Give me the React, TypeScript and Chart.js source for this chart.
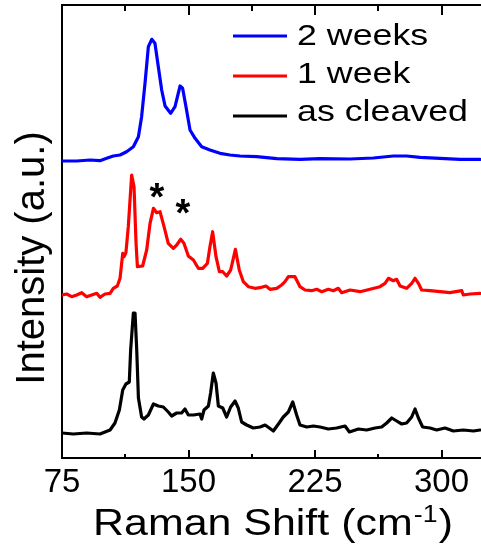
import { useEffect, useRef } from "react";
import { Chart, registerables } from "chart.js";

Chart.register(...registerables);

// Axis range and tick positions (Raman shift, cm^-1)
const shiftMin = 75;
const shiftMax = 323.4;
const majorTicks = [75, 150, 225, 300];
const minorTicks = [112.5, 187.5, 262.5];

const seriesLabels = ["2 weeks", "1 week", "as cleaved"];
const seriesColors = ["#0000ff", "#ff0000", "#000000"];

// Spectrum after 2 weeks (vertically offset)
const twoWeeksShift = [
  75, 83.7, 91.6, 97.5, 101.5, 105.4, 109.4, 113.3, 117.3, 120.3, 122.2, 124.2,
  126.2, 128.2, 130.1, 132.1, 134.1, 136.1, 139.4, 142, 145, 146.5, 148.5, 150.9,
  153.9, 157.8, 162.7, 168.7, 174.6, 180.5, 190.4, 202.3, 216.1, 228, 245.8,
  259.6, 271.4, 279.3, 287.3, 299.1, 311, 322.8,
];
const twoWeeksIntensity = [
  297, 297, 298, 297.3, 299.7, 302, 303, 306.3, 311.3, 321.3, 341.3, 374.7,
  411.3, 418.7, 414.7, 391.3, 368, 352, 344.7, 351.3, 372, 369.7, 351.3, 328,
  319.7, 311.3, 308, 304.7, 303, 302, 301.3, 299.3, 298.7, 299.3, 299,
  300, 302, 302, 300.7, 299.7, 298.7, 298.7,
];

// Spectrum after 1 week (vertically offset)
const oneWeekShift = [
  75, 77.8, 80.7, 83.7, 86.7, 89.6, 92.6, 95.6, 97.5, 100.5, 103.5, 105.4, 107.8,
  109.4, 111, 111.8, 112.9, 114.3, 116.3, 117.7, 118.9, 119.7, 122.8, 125.2,
  127.2, 129.2, 131.1, 133.1, 135.5, 138, 141, 143, 145.4, 147.3, 149.9, 152.9,
  155.8, 158.4, 161.2, 162.7, 164.3, 166.3, 168.3, 170.3, 172.6, 175, 177.8,
  180.1, 182.5, 185.5, 189.4, 192.4, 195.9, 198.3, 202.3, 205.2, 207.2, 209.2,
  213.1, 216.1, 219.1, 223, 226, 229, 232.9, 235.9, 238.8, 240.8, 245.8, 251.7,
  257.6, 263.5, 266.5, 268.5, 271.4, 273.4, 275.4, 279.3, 282.3, 284.3, 286.3,
  288.2, 293.2, 299.1, 305, 312, 312.9, 316.9, 322.8,
];
const oneWeekIntensity = [
  163, 164, 161.3, 163, 165.3, 161.3, 163, 164.7, 160.7, 164, 164.7, 169.7, 172,
  179.7, 204.7, 201.3, 205.3, 231.3, 283, 271.3, 214.7, 191.3, 192, 208,
  234.7, 249.7, 245.3, 246.3, 231.3, 214.7, 209.7, 213, 218.7, 214.7, 202, 198,
  189.7, 189.7, 194.7, 211.3, 226.3, 201.3, 186.3, 186.3, 182, 188, 208.7,
  188, 176.3, 171.3, 169.7, 170.3, 172, 168.7, 169.7, 173, 176.3, 181.3,
  181.3, 171.3, 168, 167.3, 168.7, 166.3, 168.7, 167.3, 169.7, 165.3, 168, 166.3,
  168.7, 171.3, 174.7, 179.7, 177.3, 178.7, 172, 169.7, 174.7, 179.7, 174.7,
  168, 167.3, 166.3, 165.3, 167.3, 163, 164, 164.7,
];

// Freshly cleaved spectrum
const cleavedShift = [
  75, 81.7, 89.6, 97.5, 103.5, 106.4, 109, 111, 112.9, 114.9, 115.7, 117.3, 118.3,
  119.3, 120.3, 122.2, 123.6, 126.2, 129.2, 132.1, 135.1, 138, 140, 143, 145.9,
  147.9, 149.9, 152.9, 156.8, 157.8, 159.2, 161.8, 163.1, 164.7, 166.3, 167.7,
  170.3, 172.6, 175, 177.6, 179.5, 181.5, 184.5, 188.4, 192.4, 195.4, 197.9,
  200.3, 203.3, 206.2, 209.2, 211.8, 214.1, 216.1, 220.1, 224, 228, 232.9, 237.8,
  242.8, 245.4, 250.7, 255.6, 260.6, 264.5, 267.5, 270.5, 273.4, 276.4, 279.3,
  282.3, 284.3, 286.3, 288.8, 293.2, 297.1, 302.1, 307, 312.9, 318.9, 322.8,
];
const cleavedIntensity = [
  25, 24, 25, 24, 28, 35, 48, 68, 74, 76, 108, 145, 145,
  108, 60, 41, 39, 43, 54, 52, 51, 46, 42, 45, 45,
  49, 43, 43, 44, 39, 48, 52, 65, 85, 75, 52,
  50, 41, 51, 57, 50, 36, 33, 30, 31, 33, 30,
  27, 34, 41, 46, 56, 43, 33, 31, 32, 31, 29, 30,
  32, 26, 29, 28, 30, 31, 35, 40, 37, 34, 35,
  41, 49, 40, 31, 30, 28, 30, 27, 28, 27, 28,
];

// Asterisks marking the extra modes in the 1-week spectrum
const starShift = [131.3, 146.7];
const starIntensity = [268, 252];

const FONT = '"Liberation Sans", Arial, Helvetica, sans-serif';

const pairs = (xs: number[], ys: number[]) => xs.map((x, i) => ({ x, y: ys[i] }));

const decorPlugin = {
  id: "decor",
  afterDraw(chart: any) {
    const { ctx, chartArea: a, scales } = chart;
    const xs = scales.x;
    const ys = scales.y;
    ctx.save();

    // inward ticks on the bottom and top frame
    ctx.strokeStyle = "#000";
    ctx.lineWidth = 2;
    const drawTick = (v: number, lenBottom: number, lenTop: number) => {
      const px = Math.round(xs.getPixelForValue(v));
      ctx.beginPath();
      ctx.moveTo(px, a.bottom);
      ctx.lineTo(px, a.bottom - lenBottom);
      ctx.moveTo(px, a.top);
      ctx.lineTo(px, a.top + lenTop);
      ctx.stroke();
    };
    majorTicks.forEach((v) => drawTick(v, 8, 10));
    minorTicks.forEach((v) => drawTick(v, 4, 6));

    // asterisks
    ctx.fillStyle = "#000";
    ctx.font = `bold 38px ${FONT}`;
    ctx.textAlign = "center";
    ctx.textBaseline = "alphabetic";
    const sm = ctx.measureText("*");
    starShift.forEach((v, i) => {
      const px = xs.getPixelForValue(v);
      const py = ys.getPixelForValue(starIntensity[i]);
      ctx.fillText("*", px, py + (sm.actualBoundingBoxAscent - sm.actualBoundingBoxDescent) / 2);
    });

    // legend
    const lineRows = [36, 76, 116];
    const textRows = [45, 83, 121];
    ctx.font = `30px ${FONT}`;
    ctx.textAlign = "left";
    const legendScale = 171 / ctx.measureText("as cleaved").width;
    chart.data.datasets.forEach((ds: any, i: number) => {
      ctx.strokeStyle = ds.borderColor;
      ctx.lineWidth = 3;
      ctx.beginPath();
      ctx.moveTo(233, lineRows[i]);
      ctx.lineTo(287, lineRows[i]);
      ctx.stroke();
      ctx.save();
      ctx.translate(297, textRows[i]);
      ctx.scale(legendScale, 1);
      ctx.fillStyle = "#000";
      ctx.fillText(ds.label, 0, 0);
      ctx.restore();
    });

    // y-axis title
    ctx.save();
    ctx.translate(44, 258);
    ctx.rotate(-Math.PI / 2);
    ctx.font = `40px ${FONT}`;
    ctx.textAlign = "center";
    ctx.fillStyle = "#000";
    ctx.fillText("Intensity (a.u.)", 0, 0);
    ctx.restore();

    // x-axis title with superscript
    ctx.font = `37px ${FONT}`;
    const main = "Raman Shift (cm";
    const close = ")";
    const wMain = ctx.measureText(main).width;
    const wClose = ctx.measureText(close).width;
    ctx.font = `23px ${FONT}`;
    const sup = "-1";
    const wSup = ctx.measureText(sup).width;
    const total = wMain + wSup + 2 + wClose;
    const sx = 360 / total;
    ctx.save();
    ctx.translate(93, 535);
    ctx.scale(sx, 1);
    ctx.fillStyle = "#000";
    ctx.font = `37px ${FONT}`;
    ctx.fillText(main, 0, 0);
    ctx.font = `23px ${FONT}`;
    ctx.fillText(sup, wMain + 1, -13);
    ctx.font = `37px ${FONT}`;
    ctx.fillText(close, wMain + wSup + 2, 0);
    ctx.restore();

    ctx.restore();
  },
};

export default function App() {
  const canvasRef = useRef<HTMLCanvasElement | null>(null);

  useEffect(() => {
    const canvas = canvasRef.current;
    if (!canvas) return;
    const chart = new Chart(canvas, {
      type: "line",
      data: {
        datasets: [
          { label: seriesLabels[0], data: pairs(twoWeeksShift, twoWeeksIntensity), borderColor: seriesColors[0] },
          { label: seriesLabels[1], data: pairs(oneWeekShift, oneWeekIntensity), borderColor: seriesColors[1] },
          { label: seriesLabels[2], data: pairs(cleavedShift, cleavedIntensity), borderColor: seriesColors[2] },
        ].map((d) => ({
          ...d,
          borderWidth: 3.2,
          borderJoinStyle: "round" as const,
          borderCapStyle: "round" as const,
          pointRadius: 0,
          tension: 0,
          fill: false,
          xAxisID: "x",
          yAxisID: "y",
        })),
      },
      options: {
        animation: false,
        responsive: false,
        devicePixelRatio: 1,
        layout: { padding: 0 },
        plugins: {
          legend: { display: false },
          tooltip: { enabled: false },
        },
        scales: {
          x: {
            type: "linear",
            position: "bottom",
            min: shiftMin,
            max: shiftMax,
            grid: { display: false, drawTicks: false },
            border: { display: true, color: "#000", width: 2 },
            ticks: {
              color: "#000",
              font: { family: FONT, size: 33 },
              padding: 5,
              maxRotation: 0,
              autoSkip: false,
            },
            afterBuildTicks: (scale: any) => {
              scale.ticks = majorTicks.map((value) => ({ value }));
            },
            afterFit: (scale: any) => {
              scale.height = 86;
            },
          },
          xTop: {
            type: "linear",
            position: "top",
            min: shiftMin,
            max: shiftMax,
            grid: { display: false, drawTicks: false },
            border: { display: true, color: "#000", width: 2 },
            ticks: { display: false },
            afterFit: (scale: any) => {
              scale.height = 5;
            },
          },
          y: {
            type: "linear",
            min: 0,
            max: 453,
            grid: { display: false, drawTicks: false },
            border: { display: true, color: "#000", width: 2 },
            ticks: { display: false },
            afterFit: (scale: any) => {
              scale.width = 62;
            },
          },
        },
      },
      plugins: [decorPlugin],
    });
    return () => chart.destroy();
  }, []);

  return (
    <div style={{ position: "absolute", left: 0, top: 0, width: 481, height: 544, background: "#fff" }}>
      <canvas ref={canvasRef} width={481} height={544} />
    </div>
  );
}
